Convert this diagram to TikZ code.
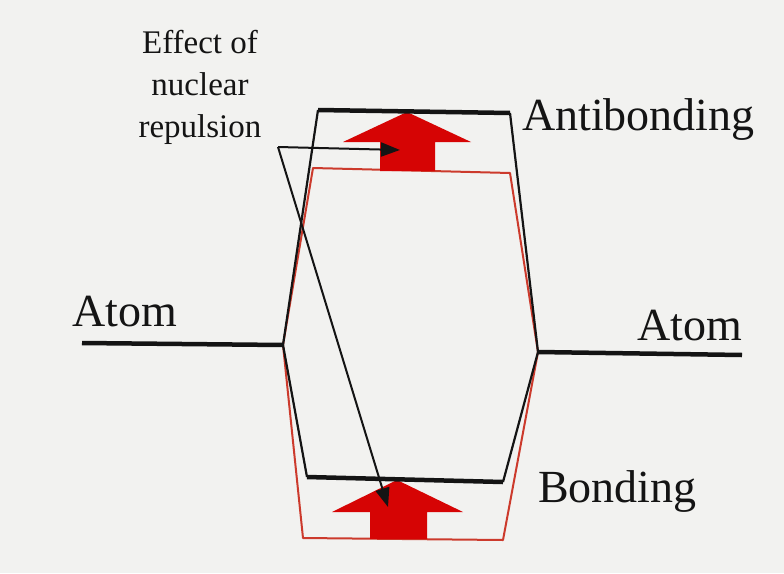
\documentclass[tikz,border=0pt]{standalone}
\usepackage{fontspec}
\setmainfont{Liberation Serif}
\usepackage{tikz}
\usetikzlibrary{arrows.meta}
\pgfdeclarelayer{edgelayer}
\pgfdeclarelayer{nodelayer}
\pgfsetlayers{edgelayer,nodelayer,main}
\definecolor{paper}{RGB}{242,242,240}
\definecolor{orbred}{RGB}{214,4,4}
\definecolor{rimred}{RGB}{204,58,44}
\tikzstyle{point}=[inner sep=0pt, minimum size=0pt]
\tikzstyle{label}=[inner sep=0pt, font=\fontsize{46}{50}\selectfont, text=black!92]
\tikzstyle{note}=[inner sep=0pt, align=center, font=\fontsize{33}{42}\selectfont, text=black!92]
\tikzstyle{level}=[draw=black!92, line width=4.5pt]
\tikzstyle{edge}=[draw=black!92, line width=2.2pt]
\tikzstyle{rim}=[draw=rimred, line width=2pt, line join=round]
\tikzstyle{push}=[fill=orbred, draw=none]
\tikzstyle{pointer}=[draw=black!92, line width=2pt, -{Triangle[length=19pt,width=14pt]}]

\begin{document}
\begin{tikzpicture}[x=1pt, y=-1pt]
			\useasboundingbox (0,0) rectangle (784,573);
			\begin{pgfonlayer}{nodelayer}
				\node [style=label, anchor=base west] (0) at (72,326) {Atom};
				\node [style=label, anchor=base east] (1) at (742,340) {Atom};
				\node [style=label, anchor=base west] (2) at (522,130) {Antibonding};
				\node [style=label, anchor=base west] (3) at (538,502) {Bonding};
				\node [style=note, anchor=north] (4) at (200,30) {Effect of\\nuclear\\repulsion};
				% level ends
				\node [style=point] (5) at (82,343) {};
				\node [style=point] (6) at (283,345) {};
				\node [style=point] (7) at (538,352) {};
				\node [style=point] (8) at (742,355) {};
				\node [style=point] (9) at (318,110) {};
				\node [style=point] (10) at (510,113) {};
				\node [style=point] (11) at (307,477) {};
				\node [style=point] (12) at (503,482) {};
				\node [style=point] (13) at (313,168) {};
				\node [style=point] (14) at (510,173) {};
				\node [style=point] (15) at (303,538) {};
				\node [style=point] (16) at (503,540) {};
				% pointer ends
				\node [style=point] (17) at (278,147) {};
				\node [style=point] (18) at (400,150) {};
				\node [style=point] (19) at (388,507) {};
			\end{pgfonlayer}
			\begin{pgfonlayer}{edgelayer}
				\fill [paper] (0,0) rectangle (784,573);
				\draw [style=rim] (6.center) -- (13.center) -- (14.center) -- (7.center) -- (16.center) -- (15.center) -- cycle;
				\fill [style=push] (407,112) -- (471,142) -- (435,142) -- (435,171) -- (380,171) -- (380,142) -- (343,142) -- cycle;
				\fill [style=push] (397,480) -- (463,512) -- (427,512) -- (427,539) -- (370,539) -- (370,512) -- (332,512) -- cycle;
				\draw [style=edge] (6.center) to (9.center);
				\draw [style=edge] (10.center) to (7.center);
				\draw [style=edge] (6.center) to (11.center);
				\draw [style=edge] (12.center) to (7.center);
				\draw [style=level] (5.center) to (6.center);
				\draw [style=level] (7.center) to (8.center);
				\draw [style=level] (9.center) to (10.center);
				\draw [style=level] (11.center) to (12.center);
				\draw [style=pointer] (17.center) to (18.center);
				\draw [style=pointer] (17.center) to (19.center);
			\end{pgfonlayer}
		\end{tikzpicture}
\end{document}
